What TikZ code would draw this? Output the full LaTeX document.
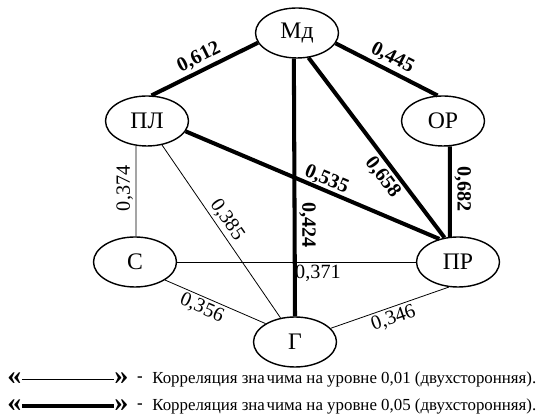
\documentclass[tikz,border=0pt]{standalone}
\usepackage{fontspec}
\setmainfont{Liberation Serif}
\usepackage{tikz}
\usetikzlibrary{shapes.geometric}
\usetikzlibrary{positioning}

\tikzset{
  vert/.style={draw, ellipse, line width=0.8pt, minimum width=1.66cm, minimum height=1.0cm, inner sep=0pt, font=\fontsize{13.5}{14}\selectfont},
  weak/.style={line width=0.45pt},
  strong/.style={line width=2.3pt},
  lbl/.style={sloped, inner sep=1.5pt, font=\fontsize{11.5}{12}\selectfont},
  lblb/.style={sloped, inner sep=1.5pt, font=\fontsize{11.5}{12}\selectfont\bfseries},
  quote/.style={inner sep=0pt, font=\fontsize{16}{16}\selectfont\bfseries},
  legtext/.style={inner sep=0pt, font=\fontsize{9.6}{10}\selectfont},
}

\begin{document}
\begin{tikzpicture}

\useasboundingbox (0,0) rectangle (10.74,8.38);

\node (Md) at (5.94,7.72) [vert] {Мд};
\node (PL) at (2.94,5.96) [vert] {ПЛ};
\node (OR) at (8.86,5.96) [vert] {ОР};
\node (S) at (2.70,3.14) [vert] {С};
\node (PR) at (9.16,3.14) [vert] {ПР};
\node (G) at (5.90,1.54) [vert] {Г};

\draw[strong] (PL.80) -- node[lblb,midway,above] {0,612} (Md.194);
\draw[strong] (Md.345) -- node[lblb,midway,above] {0,445} (OR.102);
\draw[strong] (Md.263) -- node[lblb,pos=0.645,above,allow upside down] {0,424} (G.north);
\draw[strong] (Md.295) -- node[lblb,pos=0.62,below] {0,658} (PR.119);
\draw[strong] (PL.345) -- node[lblb,pos=0.54,above,inner sep=0pt] {0,535} (PR.129);
\draw[strong] (OR.285) -- node[lblb,pos=0.47,above,allow upside down] {0,682} (PR.108);

\draw[weak] (S.88) -- node[lbl,pos=0.53,above,allow upside down] {0,374} (PL.246);
\draw[weak] (PL.302) -- node[lbl,pos=0.47,above] {0,385} (G.121);
\draw[weak] (S.east) -- node[lbl,pos=0.59,below] {0,371} (PR.west);
\draw[weak] (S.329) -- node[lbl,pos=0.41,below] {0,356} (G.148);
\draw[weak] (G.21) -- node[lbl,midway,below] {0,346} (PR.250);

\node (qlA) at (0.29,0.80) [quote] {«};
\node (qrA) at (2.43,0.80) [quote] {»};
\draw[weak] (qlA) -- (qrA);
\node (dashA) at (2.80,0.80) [legtext] {\textbf{-}};
\node (txtA) at (3.04,0.80) [legtext,anchor=west] {Корреляция зна\kern1ptчима на уровне 0,01 (двухсторонняя).};

\node (qlB) at (0.29,0.26) [quote] {«};
\node (qrB) at (2.43,0.26) [quote] {»};
\draw[strong] (qlB) -- (qrB);
\node (dashB) at (2.80,0.26) [legtext] {\textbf{-}};
\node (txtB) at (3.04,0.26) [legtext,anchor=west] {Корреляция зна\kern1ptчима на уровне 0,05 (двухсторонняя).};

\end{tikzpicture}
\end{document}
